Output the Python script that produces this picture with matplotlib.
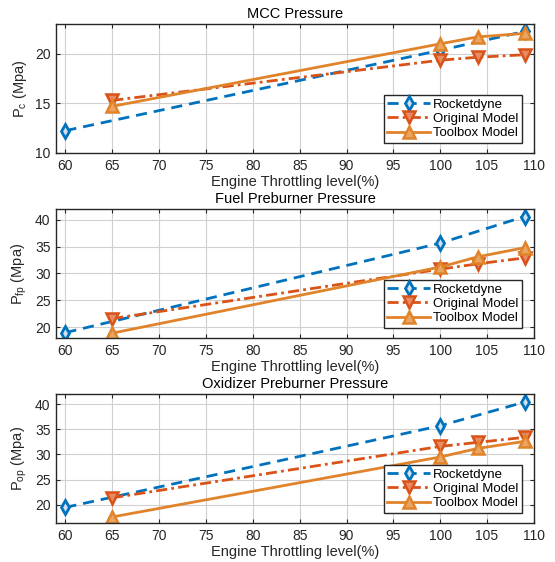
import matplotlib.pyplot as plt
import numpy as np

plt.rcParams['font.family'] = ['Liberation Sans', 'DejaVu Sans']

# throttle levels (%)
x_rocketdyne = [60, 100, 109]
x_models = [65, 100, 104, 109]

# MCC pressure (MPa)
pc_rocketdyne = [12.25, 20.35, 22.25]
pc_original = [15.3, 19.35, 19.65, 19.9]
pc_toolbox = [14.7, 21.0, 21.7, 22.05]

# fuel preburner pressure (MPa)
pfp_rocketdyne = [19.0, 35.65, 40.6]
pfp_original = [21.6, 30.8, 31.8, 32.9]
pfp_toolbox = [18.9, 31.2, 33.1, 34.8]

# oxidizer preburner pressure (MPa)
pop_rocketdyne = [19.5, 35.7, 40.4]
pop_original = [21.4, 31.6, 32.4, 33.4]
pop_toolbox = [17.6, 29.5, 31.2, 32.6]

titres = ['MCC Pressure', 'Fuel Preburner Pressure', 'Oxidizer Preburner Pressure']
ylabels = [r'$\mathregular{P_c}$ (Mpa)', r'$\mathregular{P_{fp}}$ (Mpa)', r'$\mathregular{P_{op}}$ (Mpa)']
yticks = [[10, 15, 20], [20, 25, 30, 35, 40], [20, 25, 30, 35, 40]]
ylims = [(10, 23), (18, 42), (16.4, 42)]

donnees = [
    (pc_rocketdyne, pc_original, pc_toolbox),
    (pfp_rocketdyne, pfp_original, pfp_toolbox),
    (pop_rocketdyne, pop_original, pop_toolbox),
]

bleu = '#0072BD'
rouge = '#D95319'
orange = '#E0832A'

fig = plt.figure(figsize=(5.55, 5.62), dpi=100)

bottoms = [0.7278, 0.3986, 0.0694]
for i in range(3):
    ax = fig.add_axes([0.101, bottoms[i], 0.861, 0.2295])
    rd, orig, tb = donnees[i]

    ax.plot(x_rocketdyne, rd, color=bleu, ls=(0, (4, 2.5)), lw=2,
            marker='d', ms=7, mfc='#cfe0f0', mec=bleu, mew=2, label='Rocketdyne')
    ax.plot(x_models, orig, color=rouge, ls=(0, (4, 1.5, 1, 1.5)), lw=2,
            marker='v', ms=9, mfc='#e88a62', mec=rouge, mew=1.8, label='Original Model')
    ax.plot(x_models, tb, color=orange, ls='-', lw=2,
            marker='^', ms=9, mfc='#eba562', mec=orange, mew=1.8, label='Toolbox Model')

    ax.set_xlim(59, 110)
    ax.set_ylim(*ylims[i])
    ax.set_xticks(np.arange(60, 111, 5))
    ax.set_yticks(yticks[i])
    ax.grid(True, color='#d0d0d0', lw=0.8)
    ax.set_axisbelow(True)
    ax.tick_params(direction='in', top=True, right=True, labelsize=10,
                   colors='#262626', length=3, pad=4)
    for sp in ax.spines.values():
        sp.set_color('#262626')
        sp.set_linewidth(1)

    ax.set_title(titres[i], fontsize=10.5, pad=4, color='black')
    ax.set_xlabel('Engine Throttling level(%)', fontsize=10.5, labelpad=2, color='#262626')
    ax.set_ylabel(ylabels[i], fontsize=10.5, labelpad=4, color='#262626')

    leg = ax.legend(loc='lower right', bbox_to_anchor=(0.98, 0.06), fontsize=9.5,
                    frameon=True, fancybox=False, edgecolor='#262626', framealpha=1,
                    handlelength=3.3, borderpad=0.25, labelspacing=0.15, handletextpad=0.2,
                    borderaxespad=0.2)
    leg.get_frame().set_linewidth(1)

plt.savefig('out.png', dpi=100)
